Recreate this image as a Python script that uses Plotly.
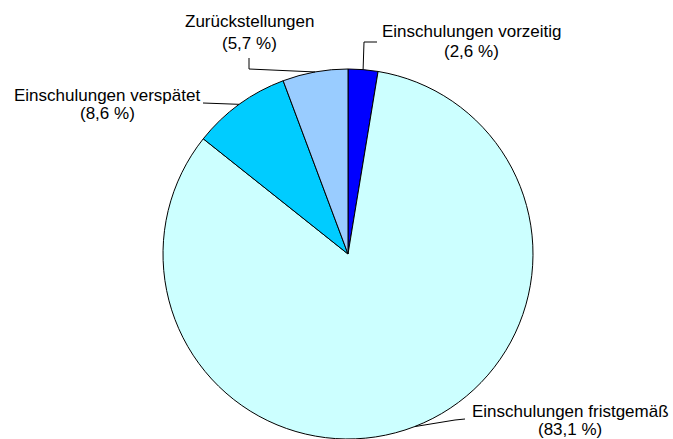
import math
import plotly.graph_objects as go

# Data
categories = ["Einschulungen vorzeitig", "Einschulungen fristgemäß",
              "Einschulungen verspätet", "Zurückstellungen"]
values = [2.6, 83.1, 8.6, 5.7]
value_labels = ["(2,6 %)", "(83,1 %)", "(8,6 %)", "(5,7 %)"]
colors = ["#0000FF", "#CCFFFF", "#00CCFF", "#99CCFF"]

W, H = 673, 439
CX, CY, R = 348, 254, 185  # pie center / radius in px

fig = go.Figure(go.Pie(
    labels=categories, values=values, sort=False, direction="clockwise",
    rotation=0, textinfo="none", hoverinfo="skip", showlegend=False,
    marker=dict(colors=colors, line=dict(color="black", width=1)),
    domain=dict(x=[(CX - R) / W, (CX + R) / W], y=[max(0, 1 - (CY + R) / H), 1 - (CY - R) / H]),
))

def px(x):
    return x / W

def py(y):
    return 1 - y / H

# label block positions (center x, line1 center y, line2 center y) and leader bends
label_pos = [
    (472, 31, 51),
    (570, 411, 429),
    (107, 95, 114),
    (249, 22, 43),
]
leader_bends = [
    [(364, 42), (377, 42)],
    [(455, 420), (465, 419)],
    [(203, 103)],
    [(249, 69), (249, 58)],
]

total = sum(values)
cum = 0.0
shapes = []
annotations = []
font = dict(family="Liberation Sans, Arial", size=17, color="black")
for i, v in enumerate(values):
    mid = (cum + v / 2) / total * 2 * math.pi
    cum += v
    ex = CX + R * math.sin(mid)
    ey = CY - R * math.cos(mid)
    pts = [(ex, ey)] + leader_bends[i]
    path = "M {} {}".format(px(pts[0][0]), py(pts[0][1]))
    for (x, y) in pts[1:]:
        path += " L {} {}".format(px(x), py(y))
    shapes.append(dict(type="path", xref="paper", yref="paper", path=path,
                       line=dict(color="black", width=1)))
    lx, ly1, ly2 = label_pos[i]
    annotations.append(dict(x=px(lx), y=py(ly1), xref="paper", yref="paper",
                            text=categories[i], showarrow=False, font=font,
                            xanchor="center", yanchor="middle"))
    annotations.append(dict(x=px(lx), y=py(ly2), xref="paper", yref="paper",
                            text=value_labels[i], showarrow=False, font=font,
                            xanchor="center", yanchor="middle"))

fig.update_layout(width=W, height=H, margin=dict(l=0, r=0, t=0, b=0),
                  paper_bgcolor="white", plot_bgcolor="white",
                  shapes=shapes, annotations=annotations)

fig.write_html("out.html", config={"displayModeBar": False},
               post_script="document.body.style.margin='0';document.body.style.overflow='hidden';")
